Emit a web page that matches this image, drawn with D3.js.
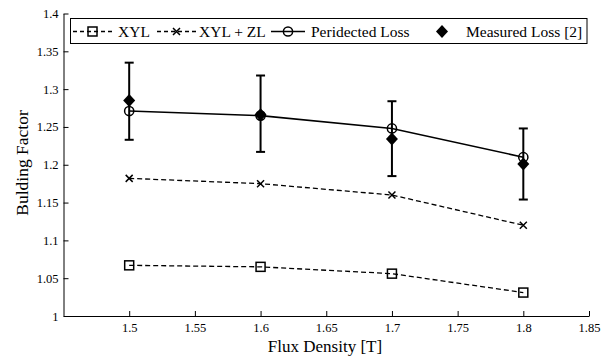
<!DOCTYPE html>
<html><head><meta charset="utf-8">
<script src="https://cdn.jsdelivr.net/npm/d3@7"></script>
<style>body{margin:0;background:#fff}svg{display:block}</style>
</head><body><svg id="c" width="608" height="357"></svg>
<script>
const fluxDensity = [1.5, 1.6, 1.7, 1.8];
const xyl = [1.067, 1.065, 1.056, 1.031];
const xylZl = [1.182, 1.175, 1.160, 1.120];
const predicted = [1.271, 1.265, 1.248, 1.210];
const measured = [1.285, 1.266, 1.234, 1.201];
const errLow = [1.233, 1.217, 1.185, 1.154];
const errHigh = [1.335, 1.318, 1.284, 1.248];
const xTicks = [1.5, 1.55, 1.6, 1.65, 1.7, 1.75, 1.8, 1.85];
const yTicks = [1, 1.05, 1.1, 1.15, 1.2, 1.25, 1.3, 1.35, 1.4];
const legendLabels = ["XYL", "XYL + ZL", "Peridected Loss", "Measured Loss [2]"];

const FONT = "'Liberation Serif'";
const svg = d3.select("#c");
const x = d3.scaleLinear().domain([1.45, 1.85]).range([63.5, 589]);
const y = d3.scaleLinear().domain([1, 1.4]).range([316, 13.5]);

// axes
const xa = svg.append("g").attr("transform", `translate(0,${y(1)})`)
  .call(d3.axisBottom(x).tickValues(xTicks).tickSizeInner(-5).tickSizeOuter(0).tickPadding(7).tickFormat(d => d3.format("")(d)));
const ya = svg.append("g").attr("transform", `translate(${x(1.45)},0)`)
  .call(d3.axisLeft(y).tickValues(yTicks).tickSizeInner(-5).tickSizeOuter(0).tickPadding(5).tickFormat(d => d3.format("")(d)));
[xa, ya].forEach(a => {
  a.attr("font-family", null).attr("font-size", null);
  a.selectAll("path, line").attr("stroke", "#000").attr("stroke-width", 1);
  a.selectAll("text").style("font-family", FONT).style("font-size", "12.5px").attr("fill", "#000");
});
xa.selectAll("text").attr("dy", "0.71em");

svg.append("text").attr("x", 325).attr("y", 352).attr("text-anchor", "middle").style("font-family", FONT).style("font-size", "17px").text("Flux Density [T]");
svg.append("text").attr("transform", `translate(28,163) rotate(-90)`).attr("text-anchor", "middle").style("font-family", FONT).style("font-size", "17.5px").text("Bulding Factor");

const line = d3.line().x((d, i) => x(fluxDensity[i])).y(d => y(d));
const dash = "5,3";
svg.append("path").attr("d", line(xyl)).attr("fill", "none").attr("stroke", "#000").attr("stroke-width", 1.3).attr("stroke-dasharray", dash);
svg.append("path").attr("d", line(xylZl)).attr("fill", "none").attr("stroke", "#000").attr("stroke-width", 1.3).attr("stroke-dasharray", dash);
svg.append("path").attr("d", line(predicted)).attr("fill", "none").attr("stroke", "#000").attr("stroke-width", 1.6);

// error bars
const eb = svg.append("g").attr("stroke", "#000").attr("stroke-width", 2);
fluxDensity.forEach((f, i) => {
  eb.append("line").attr("x1", x(f)).attr("x2", x(f)).attr("y1", y(errLow[i])).attr("y2", y(errHigh[i]));
  [errLow[i], errHigh[i]].forEach(v => eb.append("line").attr("x1", x(f) - 4.5).attr("x2", x(f) + 4.5).attr("y1", y(v)).attr("y2", y(v)));
});

function square(g, cx, cy) { g.append("rect").attr("x", cx - 4.5).attr("y", cy - 4.5).attr("width", 9).attr("height", 9).attr("fill", "none").attr("stroke", "#000").attr("stroke-width", 1.5); }
function cross(g, cx, cy) { g.append("path").attr("d", `M${cx-3.5},${cy-3.5}L${cx+3.5},${cy+3.5}M${cx-3.5},${cy+3.5}L${cx+3.5},${cy-3.5}`).attr("stroke", "#000").attr("stroke-width", 1.5); }
function circle(g, cx, cy) { g.append("circle").attr("cx", cx).attr("cy", cy).attr("r", 4.6).attr("fill", "none").attr("stroke", "#000").attr("stroke-width", 1.5); }
function diamond(g, cx, cy) { g.append("path").attr("d", `M${cx},${cy-6.5}L${cx+6},${cy}L${cx},${cy+6.5}L${cx-6},${cy}Z`).attr("fill", "#000"); }

const mk = svg.append("g");
fluxDensity.forEach((f, i) => {
  square(mk, x(f), y(xyl[i]));
  cross(mk, x(f), y(xylZl[i]));
  circle(mk, x(f), y(predicted[i]));
  diamond(mk, x(f), y(measured[i]));
});

// legend
const lg = svg.append("g");
lg.append("rect").attr("x", 70.5).attr("y", 18.5).attr("width", 516.5).attr("height", 25).attr("fill", "#fff").attr("stroke", "#000").attr("stroke-width", 1);
const ly = 31.5;
const items = [
  {x0: 73, x1: 112, dash: "4,3", mark: square, tx: 118},
  {x0: 157, x1: 196, dash: "4,3", mark: cross, tx: 199},
  {x0: 271, x1: 305, dash: null, mark: circle, tx: 311},
  {x0: null, x1: null, dash: null, mark: diamond, tx: 466, mx: 442}
];
items.forEach((it, i) => {
  if (it.x0 !== null) {
    lg.append("line").attr("x1", it.x0).attr("x2", it.x1).attr("y1", ly).attr("y2", ly).attr("stroke", "#000").attr("stroke-width", 1.3).attr("stroke-dasharray", it.dash);
    it.mark(lg, (it.x0 + it.x1) / 2, ly);
  } else {
    it.mark(lg, it.mx, ly);
  }
  lg.append("text").attr("x", it.tx).attr("y", ly + 5.5).style("font-family", FONT).style("font-size", "15.5px").text(legendLabels[i]);
});
</script></body></html>
